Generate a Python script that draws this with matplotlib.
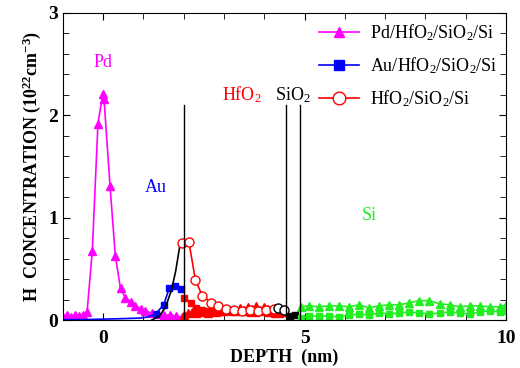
import matplotlib
matplotlib.use("Agg")
import matplotlib.pyplot as plt
import numpy as np

plt.rcParams['font.family'] = ['Liberation Serif', 'DejaVu Serif']
plt.rcParams['mathtext.fontset'] = 'custom'
plt.rcParams['mathtext.rm'] = 'Liberation Serif'
plt.rcParams['mathtext.it'] = 'Liberation Serif:italic'
plt.rcParams['mathtext.bf'] = 'Liberation Serif:bold'

# ---- Pd/HfO2/SiO2/Si (triangles)
pd_top_x = [-1.0, -0.9, -0.8, -0.7, -0.6, -0.5, -0.4, -0.27, -0.13, -0.01, 0.02, 0.17, 0.3,
            0.43, 0.55, 0.68, 0.8, 0.93, 1.05, 1.2, 1.35, 1.5, 1.65, 1.8, 1.95]
pd_top_y = [0.03, 0.05, 0.03, 0.05, 0.04, 0.05, 0.08, 0.68, 1.92, 2.21, 2.16, 1.31, 0.63,
            0.31, 0.22, 0.18, 0.14, 0.11, 0.09, 0.07, 0.06, 0.05, 0.05, 0.04, 0.03]
pd_hf_x = [2.0, 2.1, 2.2, 2.3, 2.4, 2.5, 2.6, 2.7, 2.8, 2.9, 3.0, 3.1, 3.2, 3.3, 3.4, 3.5,
           3.6, 3.7, 3.8, 3.9, 4.0, 4.1, 4.2, 4.3, 4.4, 4.5]
pd_hf_y = [0.05, 0.07, 0.08, 0.07, 0.09, 0.08, 0.07, 0.09, 0.08, 0.10, 0.09, 0.11, 0.10, 0.09,
           0.12, 0.10, 0.13, 0.11, 0.14, 0.10, 0.13, 0.11, 0.09, 0.10, 0.08, 0.11]
pd_si_x = [4.9, 5.1, 5.35, 5.6, 5.85, 6.1, 6.35, 6.6, 6.85, 7.1, 7.35, 7.6, 7.85, 8.1, 8.35,
           8.6, 8.85, 9.1, 9.35, 9.6, 9.85, 10.0]
pd_si_y = [0.13, 0.14, 0.13, 0.14, 0.14, 0.13, 0.15, 0.12, 0.14, 0.15, 0.15, 0.17, 0.19, 0.19,
           0.16, 0.15, 0.13, 0.14, 0.14, 0.13, 0.13, 0.15]

# ---- Au/HfO2/SiO2/Si (squares)
au_top_x = [-1.0, -0.5, 0.0, 0.5, 0.9, 1.1, 1.3, 1.5, 1.64, 1.79, 1.94]
au_top_y = [0.005, 0.005, 0.01, 0.015, 0.02, 0.03, 0.06, 0.15, 0.31, 0.33, 0.30]
au_hf_x = [2.0, 2.18, 2.3, 2.45, 2.6, 2.75, 2.9, 3.05, 3.2, 3.35, 3.5, 3.65, 3.8, 3.95, 4.1,
           4.25, 4.4, 4.5]
au_hf_y = [0.22, 0.17, 0.12, 0.10, 0.09, 0.08, 0.08, 0.09, 0.08, 0.09, 0.08, 0.07, 0.07, 0.08,
           0.07, 0.06, 0.06, 0.07]
au_sio_x = [4.65, 4.75]
au_sio_y = [0.04, 0.05]
au_si_x = [4.9, 5.1, 5.35, 5.6, 5.85, 6.1, 6.35, 6.6, 6.85, 7.1, 7.35, 7.6, 7.85, 8.1, 8.35,
           8.6, 8.85, 9.1, 9.35, 9.6, 9.85, 10.0]
au_si_y = [0.02, 0.04, 0.04, 0.04, 0.03, 0.05, 0.06, 0.05, 0.07, 0.06, 0.07, 0.08, 0.07, 0.06,
           0.07, 0.08, 0.07, 0.06, 0.08, 0.09, 0.08, 0.09]

# ---- HfO2/SiO2/Si (open circles)
hf_top_x = [1.2, 1.4, 1.55, 1.7, 1.8, 1.9]
hf_top_y = [0.0, 0.04, 0.13, 0.30, 0.48, 0.72]
hf_hf_x = [1.95, 2.13, 2.29, 2.46, 2.68, 2.86, 3.05, 3.25, 3.45, 3.65, 3.85, 4.05, 4.25]
hf_hf_y = [0.75, 0.76, 0.39, 0.24, 0.17, 0.14, 0.11, 0.10, 0.09, 0.10, 0.09, 0.10, 0.11]
hf_sio_x = [4.35, 4.5]
hf_sio_y = [0.12, 0.10]

boundaries = [2.0, 4.55, 4.88]
layer_labels = ["Pd", "Au", "HfO$_2$", "SiO$_2$", "Si"]
layer_colors = ["magenta", "blue", "red", "black", "#22ee22"]
layer_pos = [(0.0, 2.52), (1.3, 1.3), (3.45, 2.2), (4.72, 2.2), (6.6, 1.02)]

fig = plt.figure(figsize=(5.2, 3.68), dpi=100)
ax = fig.add_axes([0.121, 0.130, 0.852, 0.835])

green = "#22ee22"
ms = 5.5
# Pd sample
ax.plot(pd_top_x, pd_top_y, '-^', color='magenta', ms=ms, lw=1.2,
        label="Pd/HfO$_2$/SiO$_2$/Si")
ax.plot(pd_hf_x, pd_hf_y, '-^', color='red', ms=ms, lw=1.2)
ax.plot(pd_si_x, pd_si_y, '-^', color=green, ms=ms, lw=1.2)
# Au sample
ax.plot(au_top_x, au_top_y, '-s', color='blue', ms=ms - 0.5, lw=1.2,
        markevery=[6, 7, 8, 9, 10], label="Au/HfO$_2$/SiO$_2$/Si")
ax.plot(au_hf_x, au_hf_y, '-s', color='red', ms=ms - 0.5, lw=1.2)
ax.plot(au_sio_x, au_sio_y, '-s', color='black', ms=ms - 0.5, lw=1.2)
ax.plot(au_si_x, au_si_y, '-s', color=green, ms=ms - 0.5, lw=1.2)
# HfO2 sample
ax.plot(hf_top_x, hf_top_y, '-', color='black', lw=1.2)
ax.plot(hf_hf_x, hf_hf_y, '-o', color='red', mfc='white', ms=ms + 1, lw=1.2,
        label="HfO$_2$/SiO$_2$/Si")
ax.plot(hf_sio_x, hf_sio_y, '-o', color='black', mfc='white', ms=ms + 1, lw=1.2)

for b in boundaries:
    ax.plot([b, b], [0, 2.1], color='black', lw=1.0)

for lab, c, (x, y) in zip(layer_labels, layer_colors, layer_pos):
    ax.text(x, y, lab, color=c, fontsize=13, ha='center', va='center')

ax.set_xlim(-1, 10)
ax.set_ylim(0, 3)
ax.set_xticks([0, 5, 10])
ax.set_xticks(np.arange(-1, 11, 1), minor=True)
ax.set_yticks([0, 1, 2, 3])
ax.set_yticks(np.arange(0, 3.01, 0.2), minor=True)
ax.tick_params(which='both', direction='in', top=True, right=True, labelsize=14)
ax.tick_params(which='major', length=5)
ax.tick_params(which='minor', length=4)
for t in ax.get_xticklabels() + ax.get_yticklabels():
    t.set_fontweight('bold')
ax.tick_params(axis='x', pad=7)

ax.set_xlabel("DEPTH  (nm)", fontsize=13, fontweight='bold', labelpad=1)
ax.set_ylabel(r"H  CONCENTRATION (10$^{\mathbf{22}}$cm$^{\mathbf{-3}}$)", fontsize=13,
              fontweight='bold', labelpad=4)

leg = ax.legend(loc='upper right', frameon=False, fontsize=13, handlelength=2.2,
                borderaxespad=0.1, labelspacing=0.7, handletextpad=0.6,
                markerscale=1.4, bbox_to_anchor=(1.0, 1.0))

fig.savefig("out.png", dpi=100)
